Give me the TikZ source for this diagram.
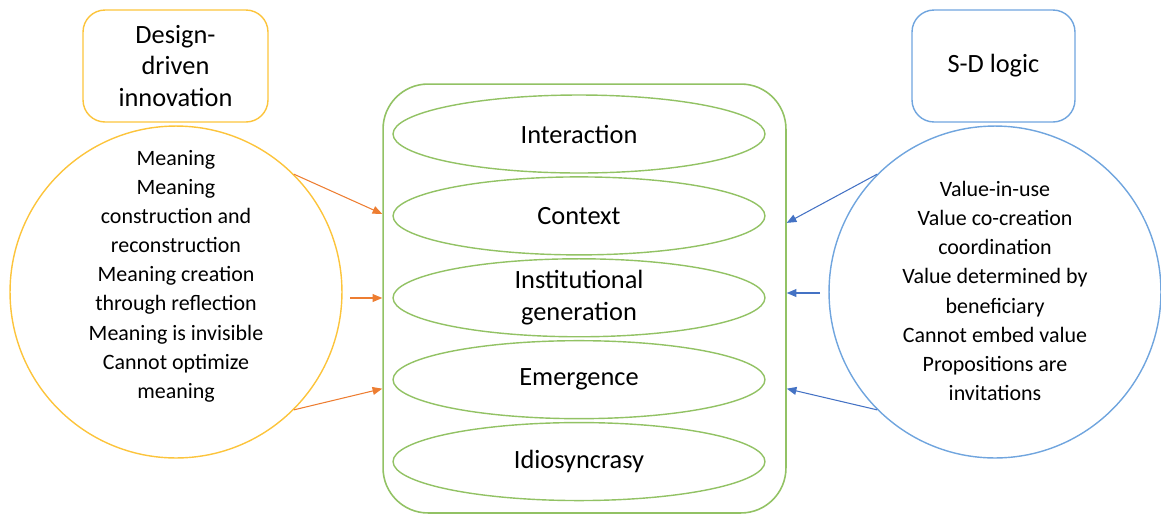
\documentclass[tikz,border=0pt]{standalone}
\usepackage{fontspec}
\setmainfont{Carlito}
\usetikzlibrary{positioning}
\usetikzlibrary{arrows.meta}
\usetikzlibrary{shapes.geometric}

\definecolor{ddyellow}{RGB}{252,196,60}
\definecolor{sdblue}{RGB}{112,165,222}
\definecolor{coregreen}{RGB}{146,194,100}
\definecolor{ddorange}{RGB}{237,125,49}
\definecolor{sdarrow}{RGB}{68,114,196}

\tikzset{
    layer/.style={ellipse, draw=coregreen, line width=0.8pt, minimum width=7.44cm, minimum height=1.56cm,
        inner xsep=0pt, inner ysep=-3pt, align=center, font=\fontsize{15}{18.2}\selectfont},
    headbox/.style={draw, rounded corners=0.44cm, line width=0.8pt, minimum height=2.24cm,
        align=center, font=\fontsize{15}{18.2}\selectfont},
    ring/.style={circle, draw, line width=0.8pt, minimum size=6.64cm, inner sep=0pt},
    listtext/.style={align=center, font=\fontsize{12.5}{16.6}\selectfont},
    ddarr/.style={draw=ddorange, line width=0.6pt, -{Triangle[length=5.5pt,width=4.5pt]}},
    sdarr/.style={draw=sdarrow, line width=0.6pt, -{Triangle[length=5.5pt,width=4.5pt]}}
}

\begin{document}
\begin{tikzpicture}[x=0.02cm, y=-0.02cm, node distance=0.05cm]
    \useasboundingbox (0,0) rectangle (1161,515);

    \node(core)[draw=coregreen, line width=0.9pt, rounded corners=0.9cm, minimum width=8.06cm, minimum height=8.58cm] at (584.5,298.5) {};
    \node(int)[layer] at (579,134) {Interaction};
    \node(ctx)[layer, below=of int] {Context};
    \node(inst)[layer, below=of ctx] {Institutional\\generation};
    \node(emer)[layer, below=of inst] {Emergence};
    \node(idio)[layer, below=of emer] {Idiosyncrasy};

    \node(dd)[headbox, draw=ddyellow, minimum width=3.7cm] at (175.5,66) {Design-\\driven\\innovation};
    \node(ddc)[ring, draw=ddyellow] at (176,292) {};
    \node(ddlist)[listtext] at (176,276) {Meaning\\Meaning\\construction and\\reconstruction\\Meaning creation\\through reflection\\Meaning is invisible\\Cannot optimize\\meaning};

    \node(sd)[headbox, draw=sdblue, minimum width=3.26cm] at (993.5,66) {S-D logic};
    \node(sdc)[ring, draw=sdblue] at (995,292) {};
    \node(sdlist)[listtext] at (995,291) {Value-in-use\\Value co-creation\\coordination\\Value determined by\\beneficiary\\Cannot embed value\\Propositions are\\invitations};

    \coordinate(ddmid) at (350,298);
    \coordinate(sdmid) at (820,293);

    \draw[ddarr] (ddc.45) -- ([yshift=0.04cm] core.west |- ctx);
    \draw[ddarr] (ddmid) -- (core.west |- ddmid);
    \draw[ddarr] (ddc.-45) -- ([yshift=-0.18cm] core.west |- emer);

    \draw[sdarr] (sdc.135) -- ([yshift=-0.14cm] core.east |- ctx);
    \draw[sdarr] (sdmid) -- (core.east |- sdmid);
    \draw[sdarr] (sdc.225) -- ([yshift=-0.18cm] core.east |- emer);
\end{tikzpicture}
\end{document}
